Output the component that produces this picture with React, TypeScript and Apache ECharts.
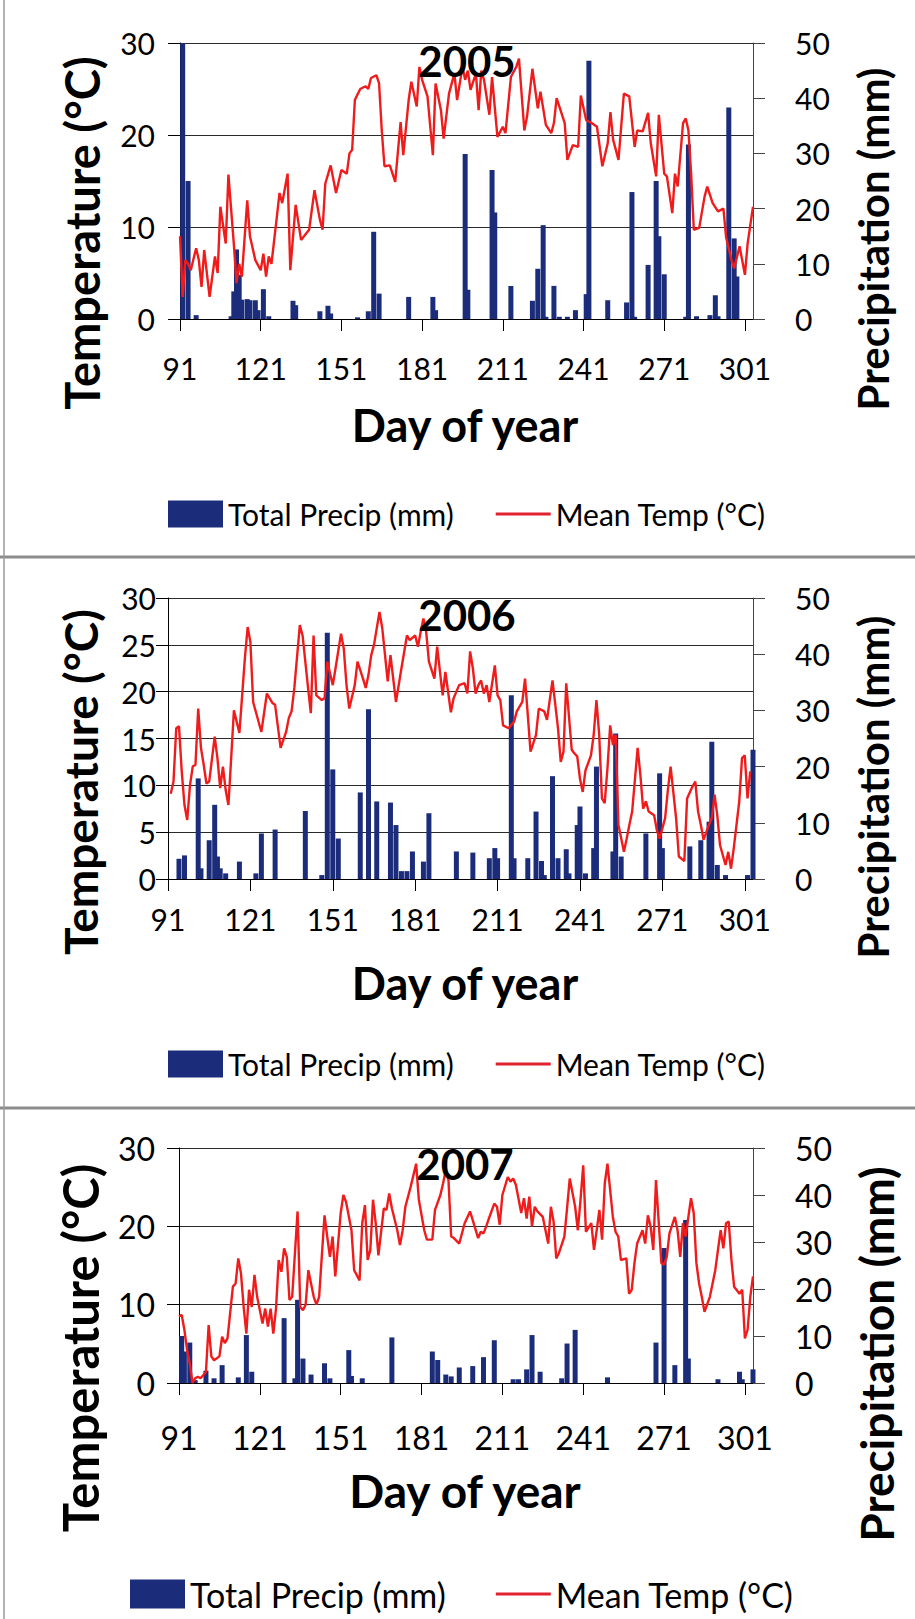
import React, { useEffect, useRef } from 'react';
import * as echarts from 'echarts';

// ---------- data ----------
const FIRST_DAY = 91;
const LAST_DAY = 304;
const DAYS: string[] = [];
for (let d = FIRST_DAY; d <= LAST_DAY; d++) DAYS.push(String(d));

const T2005: [number, number][] = [
  [91, 9], [92, 2.4], [93, 6.4], [94, 6], [95, 5.3], [97, 7.7], [98, 6.4], [99, 3.5], [100, 7.5], [102, 2.4], [104, 6.8], [105, 5], [106, 12.2], [108, 8.2], [109, 15.7], [111, 8.2], [112, 3.9], [113, 6], [114, 4.6], [116, 12.9], [117, 9], [119, 6.4], [121, 5.3], [122, 7.1], [123, 4.6], [124, 6.8], [125, 6], [127, 11.1], [128, 13.7], [129, 12.6], [131, 15.8], [132, 5.3], [134, 12.4], [136, 8.6], [139, 9.7], [141, 14], [143, 10.8], [144, 9.7], [145, 14.7], [147, 16.7], [149, 13.7], [151, 16.2], [153, 15.8], [154, 18], [155, 18.4], [156, 23.8], [158, 25], [160, 25.3], [161, 25], [162, 26.2], [164, 26.5], [165, 25.6], [166, 20.5], [167, 16.6], [169, 16.7], [171, 14.9], [173, 21.4], [174, 17.8], [176, 23.8], [177, 25.8], [179, 23.1], [180, 27.4], [181, 26], [183, 24.2], [185, 17.8], [186, 25.6], [188, 22.7], [189, 19.6], [191, 24.5], [193, 26.7], [194, 23.8], [196, 27.4], [197, 26], [198, 27], [199, 24.9], [201, 26.7], [202, 22.7], [203, 27], [204, 26], [206, 22.2], [207, 26.3], [209, 19.8], [211, 20.9], [212, 20.2], [214, 26.3], [216, 27.4], [217, 28.3], [219, 20.5], [220, 22], [222, 27.2], [224, 22.9], [225, 24.7], [227, 21.1], [229, 20.2], [230, 21.3], [231, 24], [232, 23.1], [234, 21.3], [235, 17.3], [237, 18.9], [239, 18.7], [240, 24.3], [242, 21.6], [244, 21.3], [246, 20.9], [248, 16.6], [250, 19.1], [251, 22.5], [252, 19.5], [254, 17.3], [256, 24.5], [258, 24.2], [260, 18.7], [261, 20.5], [263, 20.4], [265, 22.4], [266, 19.1], [268, 15.5], [269, 22.2], [271, 15.8], [272, 15.5], [274, 11.5], [275, 15.8], [276, 14.4], [278, 21.3], [279, 21.8], [280, 20.5], [281, 15.8], [282, 9.7], [284, 9.9], [286, 13.3], [287, 14.4], [289, 12.6], [291, 11.7], [293, 12], [294, 8.9], [296, 6.4], [297, 5.5], [299, 7.9], [301, 4.8], [302, 8.2], [304, 12.2],
];
const P2005: [number, number][] = [
  [92, 52], [94, 25], [97, 0.7], [110, 0.5], [111, 5], [112, 12.6], [113, 8], [114, 3.5], [116, 3.6], [117, 3.4], [119, 3.4], [120, 1.6], [122, 5.4], [124, 0.5], [133, 3.3], [134, 2.5], [143, 1.4], [146, 2.4], [147, 1], [157, 0.3], [161, 1.4], [163, 15.8], [165, 4.6], [176, 4], [185, 4], [186, 1.6], [197, 29.9], [198, 5.3], [207, 27], [208, 19.3], [214, 6], [222, 3.3], [224, 9.1], [226, 17], [227, 0.4], [230, 6], [232, 0.4], [235, 0.4], [238, 1.6], [242, 4.5], [243, 46.8], [250, 3.4], [257, 3], [259, 23], [260, 0.4], [265, 9.8], [268, 25], [269, 15], [271, 8.1], [279, 0.4], [280, 31.6], [283, 0.5], [288, 0.7], [290, 4.3], [291, 0.5], [295, 38.3], [297, 14.6], [298, 7.7],
];

const T2006: [number, number][] = [
  [92, 9.1], [93, 10.4], [94, 16.1], [95, 16.3], [96, 11.5], [97, 7.9], [98, 6.3], [99, 10], [100, 12], [101, 12.2], [102, 18.2], [103, 14], [104, 12.2], [105, 10.2], [106, 10.4], [108, 15.2], [109, 12.9], [110, 9.7], [111, 12], [112, 9.5], [113, 7.9], [114, 12.9], [115, 18], [117, 15.6], [118, 19.6], [119, 23.6], [120, 26.9], [121, 25.3], [122, 18.9], [125, 15.7], [127, 19.8], [129, 18.8], [130, 18.6], [132, 14], [134, 15.7], [135, 17.2], [136, 17.9], [137, 20.4], [139, 27.1], [140, 26], [142, 20.4], [143, 17.7], [144, 26], [145, 19.6], [147, 19.1], [148, 19.3], [149, 23.2], [151, 20.7], [152, 22.5], [154, 26.2], [155, 24.6], [156, 20.7], [157, 18.2], [159, 20.7], [160, 23.2], [162, 21.4], [163, 20.4], [164, 21.8], [165, 23.9], [166, 25], [168, 28.5], [169, 26.8], [171, 21.1], [172, 23.9], [173, 21.4], [174, 18.9], [176, 22.5], [178, 26], [179, 25.5], [181, 26], [182, 24.8], [183, 26.4], [184, 27.8], [185, 26.4], [186, 23.2], [188, 21.4], [189, 24.8], [191, 19.6], [192, 22.1], [194, 17.8], [195, 19.3], [197, 20.7], [199, 20.9], [200, 19.8], [201, 24.3], [202, 22.5], [203, 19.8], [204, 20.7], [205, 21.2], [206, 19.8], [207, 20.7], [208, 18.9], [210, 22.8], [211, 19.6], [212, 19.1], [213, 16.4], [215, 16.1], [217, 16.8], [218, 17.9], [220, 18.9], [221, 21.4], [223, 13.6], [225, 15.4], [226, 18.2], [228, 17.9], [229, 17], [231, 21.2], [233, 16.1], [234, 12.5], [235, 13.6], [236, 20.9], [238, 13.8], [239, 13.4], [240, 13.1], [241, 10.7], [242, 9.3], [243, 11.6], [245, 13.2], [246, 15.4], [247, 19.1], [248, 15.4], [249, 8.6], [250, 8.1], [251, 11.8], [252, 16.4], [253, 14.3], [254, 15.4], [255, 5.8], [257, 2.9], [258, 4.3], [259, 5.8], [260, 7.2], [262, 14], [263, 11.1], [264, 7.5], [265, 8.3], [266, 7.2], [268, 6.8], [269, 5.2], [270, 4.3], [272, 6.5], [273, 9.5], [274, 12], [276, 6.5], [277, 2.4], [279, 1.9], [280, 8.6], [282, 9.9], [283, 10.4], [284, 7.2], [285, 5.8], [286, 4.2], [288, 5.8], [289, 6.5], [290, 9], [291, 6.8], [292, 3.6], [294, 1.5], [295, 2.9], [296, 1.1], [297, 3.3], [299, 8.3], [300, 12.9], [301, 13.2], [302, 8.6], [303, 11.5],
];
const P2006: [number, number][] = [
  [95, 3.6], [97, 4.2], [102, 17.9], [103, 1.9], [106, 6.9], [108, 13.2], [109, 4], [110, 1.9], [112, 1], [117, 3.1], [123, 1], [125, 8.1], [130, 8.8], [141, 12.1], [147, 0.7], [149, 43.8], [151, 19.5], [153, 7.2], [161, 15.4], [164, 30.2], [167, 13.8], [172, 13.6], [174, 9.6], [176, 1.4], [178, 1.4], [180, 4.9], [184, 3.1], [186, 11.7], [196, 4.9], [202, 4.7], [208, 3.7], [210, 5.5], [211, 3.7], [216, 32.7], [217, 3.7], [222, 3.7], [225, 12], [227, 3.2], [228, 0.7], [231, 18.3], [233, 3.7], [236, 5.3], [237, 1], [240, 9.6], [241, 12.9], [243, 1], [246, 5.5], [247, 20], [253, 4.9], [254, 25.9], [256, 4], [265, 8.1], [270, 18.8], [271, 5.5], [281, 5.8], [285, 6.9], [288, 10.2], [289, 24.4], [291, 2.5], [294, 0.7], [302, 0.7], [304, 23],
];

const T2007: [number, number][] = [
  [91, 8.5], [92, 8.7], [93, 6.8], [94, 4.2], [95, 2.5], [96, 0], [97, 0.6], [98, 0.8], [99, 0.6], [101, 1.4], [102, 7.4], [103, 3.4], [104, 2.9], [106, 3.4], [107, 5.9], [108, 5.1], [109, 5.7], [111, 12.3], [112, 12.7], [113, 15.9], [114, 14], [115, 9.7], [116, 6.3], [117, 11.9], [118, 9.7], [119, 13.8], [120, 11], [122, 7.6], [123, 9.5], [124, 7.2], [125, 9.5], [126, 6.3], [127, 9.5], [128, 15.7], [129, 14.2], [130, 17.2], [131, 16.1], [132, 10.6], [133, 11], [135, 21.9], [136, 9.7], [137, 9.3], [138, 10], [139, 14.4], [141, 11], [142, 10], [143, 11], [145, 21.4], [146, 18.7], [147, 16.1], [148, 18.7], [149, 13.6], [151, 21.7], [152, 24], [153, 23.1], [155, 19.5], [156, 14.4], [158, 13.1], [159, 20.4], [160, 22.7], [161, 15.7], [162, 17], [163, 23.4], [164, 20.4], [165, 16.3], [167, 22.3], [168, 22.1], [169, 24.2], [170, 22.3], [172, 19.5], [173, 17.6], [174, 19.5], [175, 22.5], [177, 25.1], [179, 28], [180, 23.4], [182, 19.5], [183, 18.3], [185, 18.3], [186, 22.1], [188, 24], [189, 25.5], [190, 27.2], [191, 25.9], [192, 18.7], [193, 18.5], [195, 17.8], [197, 20.4], [199, 21.9], [200, 20.8], [202, 18.5], [203, 19.3], [204, 19.1], [205, 20], [206, 21], [208, 22.9], [209, 22.5], [210, 20.2], [211, 24], [213, 26.3], [214, 25.7], [215, 26.1], [216, 25.3], [218, 21.7], [219, 23.6], [220, 21], [221, 23.8], [222, 20], [223, 22.5], [224, 21.9], [226, 21.2], [228, 17.8], [229, 22.5], [230, 20.6], [231, 15.9], [232, 16.6], [234, 18.7], [235, 22.3], [236, 26.1], [238, 22.5], [239, 19.5], [240, 23.4], [241, 27.8], [242, 19.3], [244, 20.4], [245, 17], [246, 19.5], [247, 22.1], [248, 18.3], [249, 25.5], [250, 28], [252, 21.2], [253, 19.3], [254, 18.7], [255, 15.7], [257, 15.9], [258, 11.4], [259, 11.9], [260, 15.3], [261, 17.8], [263, 19.5], [264, 17.8], [265, 21.4], [266, 20], [267, 17], [268, 25.9], [270, 15.3], [271, 15.1], [272, 16.1], [273, 19.1], [275, 21.2], [276, 19.5], [277, 16.1], [278, 20.4], [279, 18.7], [281, 23.6], [282, 21.7], [283, 15.3], [284, 12.7], [285, 11], [286, 9.1], [288, 11], [289, 12.7], [290, 14.4], [291, 17], [292, 19.5], [293, 17.2], [294, 20.4], [295, 20.6], [296, 15.7], [297, 12.3], [299, 11.4], [300, 11.9], [301, 5.7], [302, 6.8], [303, 11], [304, 13.6],
];
const P2007: [number, number][] = [
  [92, 10], [93, 6.7], [95, 8.6], [97, 0.6], [101, 2.6], [104, 1], [107, 3.8], [113, 1.2], [116, 10.2], [118, 2.4], [130, 13.8], [134, 1], [135, 17.7], [137, 5.2], [140, 1.8], [145, 4.2], [147, 1], [154, 7], [155, 1.5], [159, 1], [170, 9.7], [185, 6.7], [187, 4.9], [190, 1.8], [192, 1.4], [195, 3.3], [200, 3.6], [204, 5.5], [208, 9.1], [215, 0.8], [217, 0.8], [220, 2.9], [222, 10.2], [225, 2.4], [233, 1], [235, 8.4], [238, 11.3], [250, 1.2], [268, 8.6], [271, 28.7], [275, 3.8], [279, 34.7], [280, 5.2], [291, 0.8], [299, 2.4], [300, 0.8], [304, 2.9],
];

const YEARS = ['2005', '2006', '2007'];
const PRECIP_NAME = 'Total Precip (mm)';
const TEMP_NAME = 'Mean Temp (°C)';
const TEMP_TITLE = 'Temperature (°C)';
const PRECIP_TITLE = 'Precipitation (mm)';
const X_TITLE = 'Day of year';
const TEMP_MAX = 30;
const PRECIP_MAX = 50;
const TEMP_STEPS = [10, 5, 10];
const PRECIP_STEP = 10;
const LABEL_EVERY = 30;

// ---------- layout / style ----------
const FONT = 'Lato, "Open Sans", sans-serif';
const BAR = '#1b2c7a';
const RED = '#f01c1c';
const LINE_ICON = 'path://M0,0L60,0L60,3.2L0,3.2Z';

const LAYOUT = [
  {
    grid: { left: 180, top: 43, width: 573, height: 276 },
    tick: 30, xMargin: 34, yMargin: 25, rMargin: 42,
    year: [467, 61, 42], tTitle: [82, 233, 47], pTitle: [873, 239, 42], xTitle: [465, 425, 45],
    legend: { left: 163, cy: 509, font: 30, gap: 42, h: 27 },
  },
  {
    grid: { left: 168, top: 598, width: 585, height: 281 },
    tick: 30, xMargin: 25, yMargin: 12, rMargin: 42,
    year: [467, 615, 42], tTitle: [80, 782, 46], pTitle: [873, 787, 42], xTitle: [465, 983, 45],
    legend: { left: 163, cy: 1059, font: 30, gap: 42, h: 27 },
  },
  {
    grid: { left: 179, top: 1148, width: 574, height: 235 },
    tick: 32, xMargin: 38, yMargin: 24, rMargin: 42,
    year: [465, 1164, 42], tTitle: [80, 1348, 49], pTitle: [876, 1354, 46], xTitle: [465, 1490, 46],
    legend: { left: 125, cy: 1589, font: 34, gap: 50, h: 29 },
  },
];

const TEMPS = [T2005, T2006, T2007];
const PRECIPS = [P2005, P2006, P2007];

function buildOption() {
  const grid: any[] = [];
  const xAxis: any[] = [];
  const yAxis: any[] = [];
  const series: any[] = [];
  const legend: any[] = [];
  const graphic: any[] = [];

  const txt = (text: string, x: number, y: number, size: number, rot = 0) => ({
    type: 'text',
    x,
    y,
    rotation: rot,
    z: 100,
    style: {
      text,
      fontSize: size,
      fontWeight: 'bold',
      fontFamily: FONT,
      fill: '#000',
      align: 'center',
      verticalAlign: 'middle',
      textAlign: 'center',
      textVerticalAlign: 'middle',
    },
  });

  LAYOUT.forEach((L, i) => {
    grid.push({ ...L.grid, containLabel: false });
    xAxis.push({
      type: 'category',
      gridIndex: i,
      data: DAYS,
      boundaryGap: false,
      axisLine: { show: true, onZero: false, lineStyle: { color: '#000', width: 1 } },
      axisTick: { show: true, interval: LABEL_EVERY - 1, length: 12, lineStyle: { color: '#000' } },
      axisLabel: { interval: LABEL_EVERY - 1, fontSize: L.tick, fontFamily: FONT, color: '#000', margin: L.xMargin },
      splitLine: { show: false },
    });
    yAxis.push({
      type: 'value',
      gridIndex: i,
      position: 'left',
      min: 0,
      max: TEMP_MAX,
      interval: TEMP_STEPS[i],
      axisLine: { show: true, lineStyle: { color: '#000', width: 1 } },
      axisTick: { show: true, length: 12, lineStyle: { color: '#000' } },
      axisLabel: { fontSize: L.tick, fontFamily: FONT, color: '#000', margin: L.yMargin },
      splitLine: { show: true, lineStyle: { color: '#2a2a2a', width: 1 } },
    });
    yAxis.push({
      type: 'value',
      gridIndex: i,
      position: 'right',
      min: 0,
      max: PRECIP_MAX,
      interval: PRECIP_STEP,
      axisLine: { show: true, lineStyle: { color: '#444', width: 1 } },
      axisTick: { show: true, length: 12, lineStyle: { color: '#444' } },
      axisLabel: { fontSize: L.tick, fontFamily: FONT, color: '#000', margin: L.rMargin },
      splitLine: { show: false },
    });
    series.push({
      name: PRECIP_NAME,
      type: 'bar',
      xAxisIndex: i,
      yAxisIndex: 2 * i + 1,
      data: PRECIPS[i].map(([d, v]) => [d - FIRST_DAY, v]),
      barWidth: 5,
      clip: true,
      itemStyle: { color: BAR },
      z: 2,
    });
    series.push({
      name: TEMP_NAME,
      type: 'line',
      xAxisIndex: i,
      yAxisIndex: 2 * i,
      data: TEMPS[i].map(([d, v]) => [d - FIRST_DAY, v]),
      symbol: 'none',
      lineStyle: { color: RED, width: 2.4 },
      itemStyle: { color: RED },
      z: 3,
    });
    const lg = L.legend;
    legend.push({
      left: lg.left,
      top: lg.cy - Math.max(lg.h, lg.font) / 2,
      itemWidth: 55,
      itemHeight: lg.h,
      itemGap: lg.gap,
      selectedMode: false,
      symbolKeepAspect: true,
      data: [
        { name: PRECIP_NAME, icon: 'rect' },
        { name: TEMP_NAME, icon: LINE_ICON, itemStyle: { color: '#e0222e' } },
      ],
      textStyle: { fontSize: lg.font, fontFamily: FONT, color: '#000' },
    });
    graphic.push(txt(YEARS[i], L.year[0], L.year[1], L.year[2]));
    graphic.push(txt(TEMP_TITLE, L.tTitle[0], L.tTitle[1], L.tTitle[2], Math.PI / 2));
    graphic.push(txt(PRECIP_TITLE, L.pTitle[0], L.pTitle[1], L.pTitle[2], Math.PI / 2));
    graphic.push(txt(X_TITLE, L.xTitle[0], L.xTitle[1], L.xTitle[2]));
  });

  // panel frames
  [557, 1108].forEach((y) =>
    graphic.push({ type: 'line', z: 50, shape: { x1: 0, y1: y, x2: 915, y2: y }, style: { stroke: '#8c8c8c', lineWidth: 3 } })
  );
  graphic.push({ type: 'line', z: 50, shape: { x1: 4, y1: 0, x2: 4, y2: 1619 }, style: { stroke: '#9a9a9a', lineWidth: 1.5 } });

  return {
    animation: false,
    backgroundColor: '#fff',
    grid,
    xAxis,
    yAxis,
    series,
    legend,
    graphic,
  };
}

export default function App() {
  const ref = useRef<HTMLDivElement>(null);
  useEffect(() => {
    if (!ref.current) return;
    const chart = echarts.init(ref.current, undefined, { renderer: 'svg', width: 915, height: 1619 });
    chart.setOption(buildOption() as any);
    return () => chart.dispose();
  }, []);
  return (
    <div
      ref={ref}
      style={{ position: 'absolute', left: 0, top: 0, width: 915, height: 1619, background: '#fff' }}
    />
  );
}
